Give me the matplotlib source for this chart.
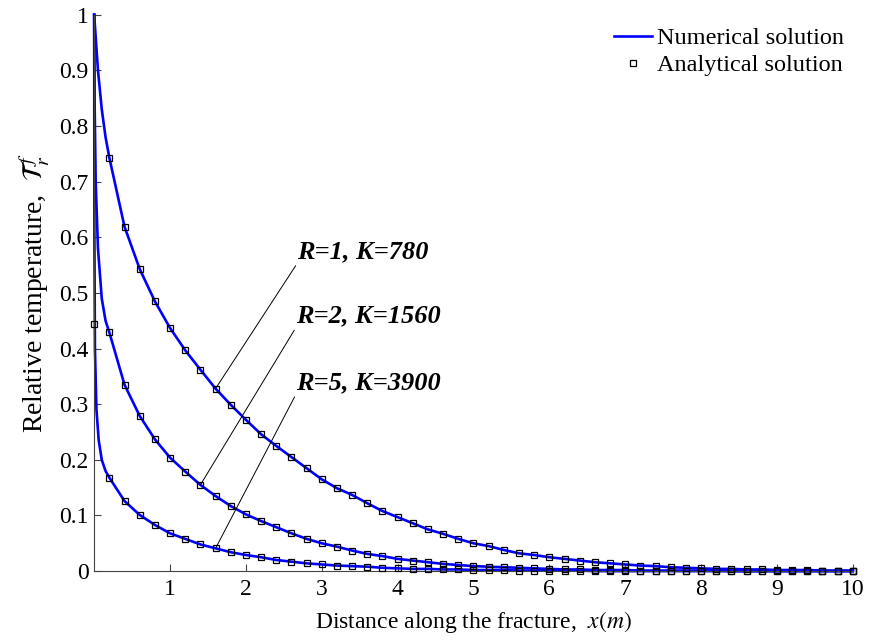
import matplotlib
matplotlib.use("Agg")
import matplotlib.pyplot as plt
import numpy as np

plt.rcParams['font.family'] = ['Liberation Serif', 'DejaVu Serif']
plt.rcParams['mathtext.fontset'] = 'stix'

# analytical points, every 0.2 m
x_pts = np.round(np.arange(1, 51) * 0.2, 1)

t_r1 = [0.743, 0.619, 0.543, 0.485, 0.437, 0.397, 0.362, 0.328, 0.299, 0.272,
        0.246, 0.225, 0.205, 0.185, 0.165, 0.149, 0.137, 0.122, 0.108, 0.097,
        0.086, 0.075, 0.067, 0.058, 0.050, 0.045, 0.038, 0.032, 0.029, 0.025,
        0.022, 0.019, 0.016, 0.014, 0.012, 0.010, 0.009, 0.007, 0.006, 0.005,
        0.004, 0.004, 0.003, 0.003, 0.002, 0.002, 0.002, 0.001, 0.001, 0.001]
t_r2 = [0.429, 0.335, 0.279, 0.237, 0.204, 0.179, 0.155, 0.135, 0.117, 0.102,
        0.090, 0.079, 0.068, 0.058, 0.050, 0.044, 0.037, 0.031, 0.027, 0.022,
        0.019, 0.016, 0.013, 0.011, 0.009, 0.008, 0.007, 0.006, 0.005, 0.004,
        0.003, 0.003, 0.002, 0.002, 0.002, 0.001, 0.001, 0.001, 0.001, 0.001,
        0.001, 0.0, 0.0, 0.0, 0.0, 0.0, 0.0, 0.0, 0.0, 0.0]
t_r5 = [0.168, 0.126, 0.101, 0.083, 0.068, 0.058, 0.048, 0.041, 0.034, 0.029,
        0.025, 0.020, 0.017, 0.014, 0.012, 0.010, 0.009, 0.008, 0.006, 0.005,
        0.004, 0.004, 0.003, 0.003, 0.002, 0.002, 0.002, 0.001, 0.001, 0.001,
        0.001, 0.001, 0.0, 0.0, 0.0, 0.0, 0.0, 0.0, 0.0, 0.0,
        0.0, 0.0, 0.0, 0.0, 0.0, 0.0, 0.0, 0.0, 0.0, 0.0]

# extra analytical point next to the axis
x_extra = [0.0]
t_extra = [0.445]

# numerical solution near the inlet (steep part)
x_head1 = [0.0, 0.02, 0.05, 0.1, 0.15]
t_head1 = [1.0, 0.96, 0.90, 0.83, 0.78]
x_head2 = [0.0, 0.005, 0.02, 0.05, 0.1, 0.15]
t_head2 = [1.0, 0.85, 0.70, 0.58, 0.49, 0.45]
x_head5 = [0.0, 0.003, 0.01, 0.03, 0.06, 0.1, 0.15]
t_head5 = [1.0, 0.60, 0.40, 0.29, 0.235, 0.20, 0.18]

labels = ['R=1, K=780', 'R=2, K=1560', 'R=5, K=3900']
label_pos = [(2.68, 0.563), (2.66, 0.447), (2.66, 0.327)]
label_at = [7, 6, 7]   # index of the point the leader line points to

fig = plt.figure(figsize=(8.72, 6.41), dpi=100)
ax = fig.add_axes([0.108, 0.109, 0.870, 0.868])

curves = [(x_head1, t_head1, t_r1), (x_head2, t_head2, t_r2), (x_head5, t_head5, t_r5)]
for i, (xh, th, tp) in enumerate(curves):
    xl = np.concatenate([xh, x_pts])
    tl = np.concatenate([th, tp])
    ax.plot(xl, tl, color='#0000ff', lw=1.9, clip_on=False, zorder=2,
            label='Numerical solution' if i == 0 else None)

for i, (xh, th, tp) in enumerate(curves):
    ax.plot(x_pts, tp, ls='none', marker='s', ms=5, mfc='none', mec='black',
            mew=0.9, clip_on=False, zorder=3,
            label='Analytical solution' if i == 0 else None)
ax.plot(x_extra, t_extra, ls='none', marker='s', ms=5, mfc='none', mec='black',
        mew=0.9, clip_on=False, zorder=3)

for lab, pos, idx, tp in zip(labels, label_pos, label_at, [t_r1, t_r2, t_r5]):
    ax.annotate(lab, xy=(x_pts[idx], tp[idx]), xytext=pos,
                fontsize=19, fontweight='bold', fontstyle='italic',
                ha='left', va='baseline',
                arrowprops=dict(arrowstyle='-', lw=0.7, color='black',
                                relpos=(0, 0), shrinkA=0, shrinkB=0))

ax.set_xlim(0, 10)
ax.set_ylim(0, 1)
ax.set_xticks(range(1, 11))
ax.set_yticks(np.round(np.arange(0, 1.01, 0.1), 1))
ax.set_yticklabels(['0', '0.1', '0.2', '0.3', '0.4', '0.5', '0.6', '0.7', '0.8', '0.9', '1'])
ax.tick_params(direction='in', length=5, labelsize=17, width=0.8, color='#444444')
ax.tick_params(axis='x', pad=6)
ax.tick_params(axis='y', pad=4)
for s in ['top', 'right']:
    ax.spines[s].set_visible(False)
for s in ['left', 'bottom']:
    ax.spines[s].set_color('#444444')

ax.set_xlabel(r'Distance along the fracture,  $\mathit{x(m)}$', fontsize=17, labelpad=6)
ax.set_ylabel(r'Relative temperature,  $\mathcal{T}_r^{\,f}$', fontsize=20, labelpad=4)

ax.legend(loc='upper right', bbox_to_anchor=(1.001, 0.995), frameon=False, fontsize=17.5,
          handlelength=1.55, handletextpad=0.2, labelspacing=0.2, markerscale=0.75,
          borderaxespad=0.0)

fig.savefig('out.png', dpi=100)
